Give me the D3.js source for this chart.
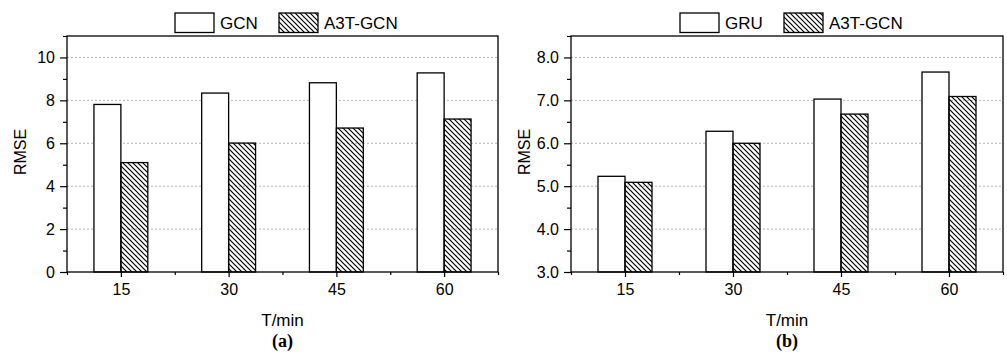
<!DOCTYPE html>
<html>
<head>
<meta charset="utf-8">
<script src="https://cdn.jsdelivr.net/npm/d3@7"></script>
<style>
  body { margin: 0; background: #fff; }
  svg text { font-family: Arial, "Liberation Sans", sans-serif; fill: #000; }
</style>
</head>
<body>
<div id="chart"></div>
<script>
// Data
const times = [15, 30, 45, 60];
const gcnRmse = [7.81, 8.34, 8.82, 9.28];
const a3tRmseA = [5.10, 6.01, 6.71, 7.13];
const gruRmse = [5.23, 6.28, 7.03, 7.66];
const a3tRmseB = [5.09, 6.00, 6.68, 7.09];
const yTicksA = [0, 2, 4, 6, 8, 10];
const yTicksB = [3, 4, 5, 6, 7, 8];
const seriesNamesA = ["GCN", "A3T-GCN"];
const seriesNamesB = ["GRU", "A3T-GCN"];

const width = 1007, height = 356;

const svg = d3.select('#chart').append('svg')
    .attr('width', width)
    .attr('height', height);

// hatch pattern (lines going down to the right)
svg.append('defs').append('pattern')
    .attr('id', 'hatch')
    .attr('patternUnits', 'userSpaceOnUse')
    .attr('width', 5)
    .attr('height', 5)
  .append('path')
    .attr('d', 'M0,0 L5,5 M-1,4 L1,6 M4,-1 L6,1')
    .attr('stroke', '#000')
    .attr('stroke-width', 1.2);

const panels = [
    { left: 67, right: 498, yDomain: [0, 11], yTicks: yTicksA, fmt: d3.format('d'),
      series: [gcnRmse, a3tRmseA], names: seriesNamesA, tag: '(a)', legendX: 175 },
    { left: 571, right: 1003, yDomain: [3, 8.5], yTicks: yTicksB, fmt: d3.format('.1f'),
      series: [gruRmse, a3tRmseB], names: seriesNamesB, tag: '(b)', legendX: 680 }
];
const plotTop = 36, plotBottom = 272;
const fills = ['#fff', 'url(#hatch)'];

function drawPanel(p) {
    const g = svg.append('g');
    const x = d3.scaleLinear().domain([7.5, 67.5]).range([p.left, p.right]);
    const y = d3.scaleLinear().domain(p.yDomain).range([plotBottom, plotTop]);

    // dotted grid lines
    g.selectAll('line.grid')
        .data(p.yTicks.filter(d => d > p.yDomain[0]))
        .enter().append('line')
        .attr('x1', p.left).attr('x2', p.right)
        .attr('y1', d => y(d)).attr('y2', d => y(d))
        .attr('stroke', '#b4b4b4')
        .attr('stroke-width', 1)
        .attr('stroke-dasharray', '2,2');

    // bars
    const barW = x(7.5 + 3.75) - x(7.5);
    p.series.forEach((vals, si) => {
        g.selectAll('rect.s' + si)
            .data(vals)
            .enter().append('rect')
            .attr('x', (d, i) => x(times[i]) - barW + si * barW)
            .attr('y', d => y(d))
            .attr('width', barW)
            .attr('height', d => plotBottom - y(d))
            .attr('fill', fills[si])
            .attr('stroke', '#000')
            .attr('stroke-width', 1.3);
    });

    // frame
    g.append('rect')
        .attr('x', p.left).attr('y', plotTop)
        .attr('width', p.right - p.left).attr('height', plotBottom - plotTop)
        .attr('fill', 'none')
        .attr('stroke', '#000')
        .attr('stroke-width', 1.3);

    // y axis: major + minor ticks
    const step = p.yTicks[1] - p.yTicks[0];
    const yMinor = d3.range(p.yDomain[0] + step / 2, p.yDomain[1] + 0.01, step);
    g.append('g')
        .attr('transform', `translate(${p.left},0)`)
        .call(d3.axisLeft(y).tickValues(p.yTicks).tickFormat(p.fmt).tickSize(7).tickPadding(5));
    g.append('g')
        .attr('transform', `translate(${p.left},0)`)
        .call(d3.axisLeft(y).tickValues(yMinor).tickFormat('').tickSize(4));

    // x axis: major + minor ticks
    g.append('g')
        .attr('transform', `translate(0,${plotBottom})`)
        .call(d3.axisBottom(x).tickValues(times).tickSize(5).tickPadding(7));
    g.append('g')
        .attr('transform', `translate(0,${plotBottom})`)
        .call(d3.axisBottom(x).tickValues([7.5, 22.5, 37.5, 52.5, 67.5]).tickFormat('').tickSize(3));

    g.selectAll('.domain').remove();
    g.selectAll('.tick line').attr('stroke', '#000').attr('stroke-width', 1.2);
    g.selectAll('.tick text').style('font-size', '16px').style('font-family', 'Arial, "Liberation Sans", sans-serif');

    // axis titles
    g.append('text')
        .attr('transform', `translate(${p.left - 41},${(plotTop + plotBottom) / 2 - 2}) rotate(-90)`)
        .attr('text-anchor', 'middle')
        .style('font-size', '16px')
        .text('RMSE');
    g.append('text')
        .attr('x', (p.left + p.right) / 2)
        .attr('y', 326)
        .attr('text-anchor', 'middle')
        .style('font-size', '17px')
        .text('T/min');
    g.append('text')
        .attr('x', (p.left + p.right) / 2)
        .attr('y', 347)
        .attr('text-anchor', 'middle')
        .style('font-size', '18px')
        .style('font-weight', 'bold')
        .style('font-family', '"Liberation Serif", "Times New Roman", serif')
        .text(p.tag);

    // legend
    const lg = g.append('g').attr('transform', `translate(${p.legendX},13)`);
    const offsets = [0, 104];
    p.names.forEach((name, i) => {
        lg.append('rect')
            .attr('x', offsets[i]).attr('y', 0)
            .attr('width', 39).attr('height', 19.5)
            .attr('fill', fills[i])
            .attr('stroke', '#000')
            .attr('stroke-width', 1.3);
        lg.append('text')
            .attr('x', offsets[i] + 45)
            .attr('y', 16)
            .style('font-size', '17px')
            .text(name);
    });
}

panels.forEach(drawPanel);
</script>
</body>
</html>
